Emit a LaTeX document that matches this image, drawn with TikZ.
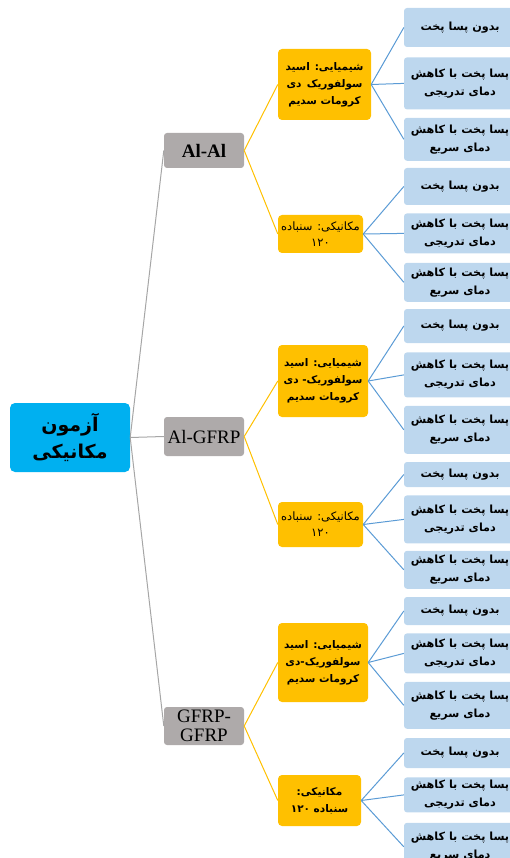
\documentclass[tikz,border=0pt]{standalone}
\usepackage{fontspec}
\setmainfont{Liberation Serif}
\newfontfamily\fafont[Script=Arabic]{DejaVu Sans}
\TeXXeTstate=1
\newcommand\fatext[1]{\beginR #1\endR}
\newcommand\fanum[1]{\beginL #1\endL}
\usetikzlibrary{positioning}
\definecolor{rootcyan}{HTML}{00B0F0}
\definecolor{matgrey}{HTML}{AEAAAA}
\definecolor{treatorange}{HTML}{FFC000}
\definecolor{curefill}{HTML}{BDD7EE}
\definecolor{cureline}{HTML}{5B9BD5}
\definecolor{rootline}{HTML}{A6A6A6}

\begin{document}
\begin{tikzpicture}[x=1pt,y=-1pt,
  rootbox/.style={fill=rootcyan,rounded corners=5pt,minimum width=120pt,minimum height=69pt,align=center,font=\fafont\bfseries\fontsize{19}{27}\selectfont},
  matbox/.style={fill=matgrey,rounded corners=3pt,minimum width=80pt,align=center,inner sep=1pt,font=\fontsize{19}{19}\selectfont},
  treatbox/.style={fill=treatorange,rounded corners=4pt,align=center,inner sep=2pt,font=\fafont\bfseries\fontsize{10.5}{17}\selectfont},
  curebox/.style={fill=curefill,rounded corners=3pt,minimum width=112pt,align=center,inner sep=1pt,font=\fafont\bfseries\fontsize{11.2}{18}\selectfont},
  rootlink/.style={draw=rootline,line width=1pt},
  matlink/.style={draw=treatorange,line width=1pt},
  treatlink/.style={draw=cureline,line width=1pt}]

\clip (0,0) rectangle (510,858);

\node[rootbox] (root) at (70,437.5) {\fatext{آزمون}\\\fatext{مکانیکی}};

\node[matbox,minimum height=35pt,font=\bfseries\fontsize{19}{19}\selectfont] (M1) at (204,150.5) {Al-Al};
\node[matbox,minimum height=39pt] (M2) at (204,436.5) {Al-GFRP};
\node[matbox,minimum height=38pt] (M3) at (204,726) {GFRP-\\GFRP};

\node[treatbox,minimum width=93pt,minimum height=71pt] (S1) at (324.5,84.5) {\fatext{شیمیایی: اسید}\\\fatext{سولفوریک\enspace دی}\\\fatext{کرومات سدیم}};
\node[treatbox,minimum width=85pt,minimum height=38pt,font=\fafont\fontsize{11.5}{16}\selectfont] (S2) at (320.5,234) {\fatext{مکانیکی: سنباده}\\\fanum{۱۲۰}};
\node[treatbox,minimum width=90pt,minimum height=72pt] (S3) at (323,381) {\fatext{شیمیایی: اسید}\\\fatext{سولفوریک- دی}\\\fatext{کرومات سدیم}};
\node[treatbox,minimum width=85pt,minimum height=45pt,font=\fafont\fontsize{11.5}{16}\selectfont] (S4) at (320.5,524.5) {\fatext{مکانیکی: سنباده}\\\fanum{۱۲۰}};
\node[treatbox,minimum width=90pt,minimum height=79pt] (S5) at (323,662.5) {\fatext{شیمیایی: اسید}\\\fatext{سولفوریک-دی}\\\fatext{کرومات سدیم}};
\node[treatbox,minimum width=83pt,minimum height=51pt] (S6) at (319.5,800.5) {\fatext{مکانیکی:}\\\fatext{سنباده \fanum{۱۲۰}}};

\node[curebox,minimum height=39pt] (P1) at (460,27.5) {\fatext{بدون پسا پخت}};
\node[curebox,minimum height=52pt,below=10pt of P1] (P2) {\fatext{پسا پخت با کاهش}\\\fatext{دمای تدریجی}};
\node[curebox,minimum height=43pt,below=8pt of P2] (P3) {\fatext{پسا پخت با کاهش}\\\fatext{دمای سریع}};

\node[curebox,minimum height=37pt] (P4) at (460,186.5) {\fatext{بدون پسا پخت}};
\node[curebox,minimum height=40pt,below=8pt of P4] (P5) {\fatext{پسا پخت با کاهش}\\\fatext{دمای تدریجی}};
\node[curebox,minimum height=39pt,below=9pt of P5] (P6) {\fatext{پسا پخت با کاهش}\\\fatext{دمای سریع}};

\node[curebox,minimum height=34pt] (P7) at (460,326) {\fatext{بدون پسا پخت}};
\node[curebox,minimum height=45pt,below=9pt of P7] (P8) {\fatext{پسا پخت با کاهش}\\\fatext{دمای تدریجی}};
\node[curebox,minimum height=48pt,below=8pt of P8] (P9) {\fatext{پسا پخت با کاهش}\\\fatext{دمای سریع}};

\node[curebox,minimum height=25pt] (P10) at (460,474.5) {\fatext{بدون پسا پخت}};
\node[curebox,minimum height=48pt,below=8pt of P10] (P11) {\fatext{پسا پخت با کاهش}\\\fatext{دمای تدریجی}};
\node[curebox,minimum height=38pt,below=7pt of P11] (P12) {\fatext{پسا پخت با کاهش}\\\fatext{دمای سریع}};

\node[curebox,minimum height=28pt] (P13) at (460,611) {\fatext{بدون پسا پخت}};
\node[curebox,minimum height=40pt,below=8pt of P13] (P14) {\fatext{پسا پخت با کاهش}\\\fatext{دمای تدریجی}};
\node[curebox,minimum height=47pt,below=8pt of P14] (P15) {\fatext{پسا پخت با کاهش}\\\fatext{دمای سریع}};

\node[curebox,minimum height=30pt] (P16) at (460,753) {\fatext{بدون پسا پخت}};
\node[curebox,minimum height=35pt,below=9pt of P16] (P17) {\fatext{پسا پخت با کاهش}\\\fatext{دمای تدریجی}};
\node[curebox,minimum height=48pt,below=10pt of P17] (P18) {\fatext{پسا پخت با کاهش}\\\fatext{دمای سریع}};

\draw[rootlink] (root.east) -- (M1.west);
\draw[rootlink] (root.east) -- (M2.west);
\draw[rootlink] (root.east) -- (M3.west);

\draw[matlink] (M1.east) -- (S1.west);
\draw[matlink] (M1.east) -- (S2.west);
\draw[matlink] (M2.east) -- (S3.west);
\draw[matlink] (M2.east) -- (S4.west);
\draw[matlink] (M3.east) -- (S5.west);
\draw[matlink] (M3.east) -- (S6.west);

\draw[treatlink] (S1.east) -- (P1.west);
\draw[treatlink] (S1.east) -- (P2.west);
\draw[treatlink] (S1.east) -- (P3.west);
\draw[treatlink] (S2.east) -- (P4.west);
\draw[treatlink] (S2.east) -- (P5.west);
\draw[treatlink] (S2.east) -- (P6.west);
\draw[treatlink] (S3.east) -- (P7.west);
\draw[treatlink] (S3.east) -- (P8.west);
\draw[treatlink] (S3.east) -- (P9.west);
\draw[treatlink] (S4.east) -- (P10.west);
\draw[treatlink] (S4.east) -- (P11.west);
\draw[treatlink] (S4.east) -- (P12.west);
\draw[treatlink] (S5.east) -- (P13.west);
\draw[treatlink] (S5.east) -- (P14.west);
\draw[treatlink] (S5.east) -- (P15.west);
\draw[treatlink] (S6.east) -- (P16.west);
\draw[treatlink] (S6.east) -- (P17.west);
\draw[treatlink] (S6.east) -- (P18.west);
\end{tikzpicture}
\end{document}
